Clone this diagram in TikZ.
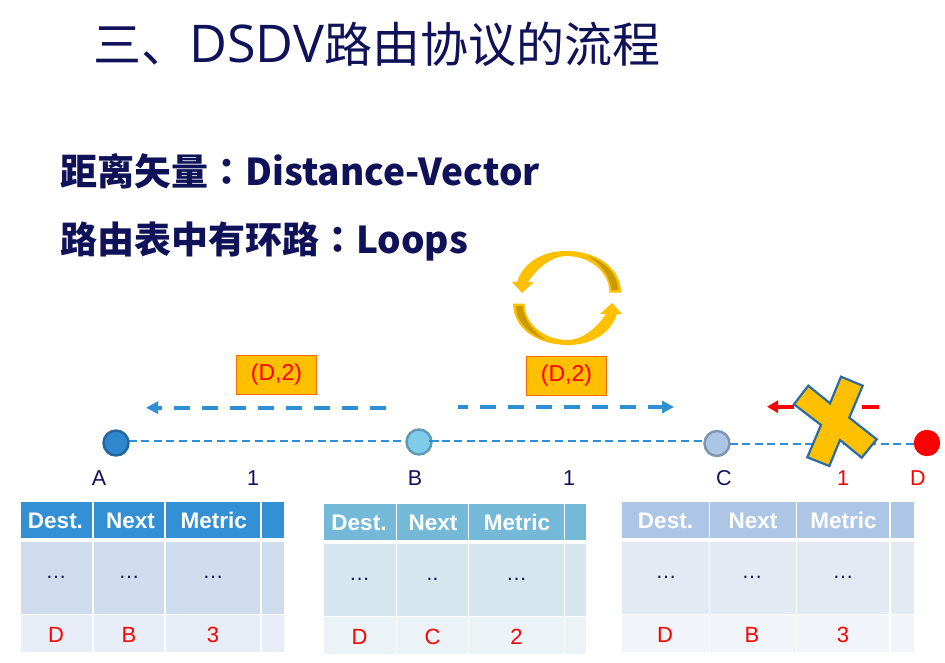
\documentclass[tikz,border=0pt]{standalone}
\usepackage{fontspec}
\setmainfont{Liberation Sans}
\newfontfamily\cjkf{Noto Sans CJK SC}
\newfontfamily\cjkt{Noto Sans CJK TC}
\newfontfamily\latf{Open Sans}
\usetikzlibrary{arrows.meta}
\definecolor{navy}{HTML}{0F1258}
\definecolor{flow}{HTML}{2F8FD5}
\definecolor{gold}{HTML}{FFC000}
\definecolor{goldd}{HTML}{C99A00}
\definecolor{xedge}{HTML}{2A6CA8}
\definecolor{boxedge}{HTML}{FF6A00}
\tikzset{
  x=1pt,y=-1pt,
  titletext/.style={anchor=base west,inner sep=0,text=navy,font=\cjkf\fontsize{48}{48}\selectfont},
  headtext/.style={anchor=base west,inner sep=0,text=navy,font=\cjkf\bfseries\fontsize{37}{37}\selectfont},
  msgbox/.style={draw=boxedge,fill=gold,line width=1.2pt,text=red,font=\fontsize{23}{23}\selectfont,minimum width=80pt,minimum height=39pt,inner sep=0},
  nodelabel/.style={anchor=base,inner sep=0,text=navy,font=\fontsize{21.5}{21.5}\selectfont},
  redlabel/.style={nodelabel,text=red},
  router/.style={circle,line width=2.4pt,minimum size=25pt,inner sep=0},
  link/.style={draw=flow,line width=1.8pt,dash pattern=on 8pt off 4.6pt},
  flowarrow/.style={flow,line width=4pt,-{Triangle[length=12pt,width=12pt,sep=0pt]}},
  bararrow/.style={red,line width=4pt},
  hdr/.style={anchor=base,inner sep=0,text=white,font=\bfseries\fontsize{22.5}{22.5}\selectfont},
  dots/.style={anchor=base,inner sep=0,text=navy,font=\fontsize{21}{21}\selectfont},
  val/.style={anchor=base,inner sep=0,text=red,font=\fontsize{22}{22}\selectfont},
}
% #1 hdr colour, #2 row1 colour, #3 row2 colour, #4-#8 column edges, #9 y offset
\newcommand{\rtbl}[9]{%
  \foreach \xa/\xb in {#4/#5,#5/#6,#6/#7,#7/#8}{
    \fill[#1] (\xa+0.7,501.7+#9) rectangle (\xb-0.7,537.7+#9);
    \fill[#2] (\xa+0.7,541.7+#9) rectangle (\xb-0.7,613.7+#9);
    \fill[#3] (\xa+0.7,615.2+#9) rectangle (\xb-0.7,652+#9);
  }%
}
\begin{document}
\begin{tikzpicture}
\useasboundingbox (0,0) rectangle (945,663);
\fill[white] (0,0) rectangle (945,663);
% headings
\node[titletext] (title) at (93,63) {三、{\latf\fontsize{52}{52}\selectfont DSDV}路由协议的流程};
\node[headtext] (h1) at (60,186) {距离矢量{\cjkt\bfseries ：}Distance-Vector};
\node[headtext] (h2) at (60,254) {路由表中有环路{\cjkt\bfseries ：}Loops};
% loop symbol
\begin{scope}
  \foreach \r in {0,180}{
    \begin{scope}[rotate around={\r:(567,298)}]
      \fill[gold] (621,292.5) .. controls (621,268) and (597,251) .. (566,251)
        .. controls (542,251) and (523,263) .. (517,282) -- (512,282) -- (522,293) -- (534,282) -- (528,282)
        .. controls (534,273) and (548,256.5) .. (566,256)
        .. controls (590,256) and (609.5,272) .. (609.5,292.5) -- cycle;
      \fill[goldd] (587,255.5) .. controls (606,262) and (618,275) .. (618,290) -- (611.5,290)
        .. controls (610,276) and (600,263) .. (587,255.5) -- cycle;
    \end{scope}
  }
\end{scope}
% links (behind the routers)
\coordinate (ab) at (116,441);
\coordinate (ba) at (419,441);
\coordinate (bc) at (429,441);
\coordinate (cb) at (717,441);
\coordinate (cd) at (717,444);
\coordinate (dc) at (927,444);
\draw[link] (ab) -- (ba);
\draw[link] (cd) -- (dc);
% routers
\definecolor{afill}{HTML}{2F88CE}\definecolor{aedge}{HTML}{21669E}
\definecolor{bfill}{HTML}{7FCBEA}\definecolor{bedge}{HTML}{5E9BB0}
\definecolor{cfill}{HTML}{ABC5E5}\definecolor{cedge}{HTML}{7F94AE}
\draw[link] (bc) -- (cb);
\node[router,draw=aedge,fill=afill] (A) at (116,443) {};
\node[router,draw=bedge,fill=bfill] (B) at (419,442) {};
\draw[link,dash pattern=on 10pt off 20pt] (B.center) ++(10,-1) -- ++(10,0);
\node[router,draw=cedge,fill=cfill] (C) at (717,443.5) {};
\node[router,draw=red,fill=red,minimum size=24pt] (D) at (927,443) {};
% message arrows
\coordinate (a1) at (386,407.7); \coordinate (a2) at (146,407.7);
\coordinate (b1) at (458,407); \coordinate (b2) at (674,407);
\draw[flowarrow,dash pattern=on 16pt off 12pt] (a1) -- (a2);
\draw[flowarrow,dash pattern=on 10pt off 12pt on 16pt off 12pt on 16pt off 12pt on 16pt off 12pt on 16pt off 12pt on 16pt off 12pt on 16pt off 12pt on 16pt off 12pt] (b1) -- (b2);
\coordinate (c1) at (794,406.7); \coordinate (c2) at (766,406.7);
\coordinate (c3) at (879,406.7); \coordinate (c4) at (862,406.7);
\draw[bararrow,-{Triangle[length=11pt,width=12pt,sep=1pt]}] (c1) -- (c2);
\draw[bararrow] (c3) -- (c4);
\node[msgbox] (m1) at (276.5,374.8) {\raisebox{-3pt}{(D,2)}};
\node[msgbox] (m2) at (566.5,375.6) {\raisebox{-3pt}{(D,2)}};
% cross
\draw[xedge,fill=gold,line width=2.2pt,line join=miter]
  (808.3,385.7) -- (830,403.3) -- (841,376.7) -- (862.7,385.7) -- (849.3,417.7) -- (876.7,439.3)
  -- (861.7,457.7) -- (840,440) -- (829.3,466) -- (807.3,457.3) -- (821,425) -- (794,404.3) -- cycle;
% labels
\node[nodelabel] (la) at (99,485) {A};
\node[nodelabel] (l1) at (253,485) {1};
\node[nodelabel] (lb) at (415,485) {B};
\node[nodelabel] (l2) at (569,485) {1};
\node[nodelabel] (lc) at (724,485) {C};
\node[redlabel] (l3) at (843,485) {1};
\node[redlabel] (ld) at (918,485) {D};
% tables
\definecolor{ah}{HTML}{3490D4}\definecolor{ar}{HTML}{CEDCEE}\definecolor{as}{HTML}{E8EDF7}
\definecolor{bh}{HTML}{74BAD8}\definecolor{br}{HTML}{D6E6EF}\definecolor{bs}{HTML}{ECF3F6}
\definecolor{ch}{HTML}{ADC6E6}\definecolor{cr}{HTML}{E3EAF3}\definecolor{cs}{HTML}{F1F4F9}
\rtbl{ah}{ar}{as}{20}{93}{165}{261}{284.7}{0}
\rtbl{bh}{br}{bs}{323.3}{396.5}{468.5}{564.5}{586.7}{2}
\rtbl{ch}{cr}{cs}{621.6}{709.5}{796.3}{890}{914.4}{0}
% table A
\node[hdr] (a11) at (55.5,528) {Dest.};
\node[hdr] (a12) at (130.5,528) {Next};
\node[hdr] (a13) at (213.7,528) {Metric};
\node[dots] (a21) at (56,578.5) {…};
\node[dots] (a22) at (129,578.5) {…};
\node[dots] (a23) at (213,578.5) {…};
\node[val] (a31) at (56,642) {D};
\node[val] (a32) at (129,642) {B};
\node[val] (a33) at (213,642) {3};
% table B
\node[hdr] (b11) at (359,530) {Dest.};
\node[hdr] (b12) at (433,530) {Next};
\node[hdr] (b13) at (517,530) {Metric};
\node[dots] (b21) at (359.5,580.5) {…};
\node[dots] (b22) at (432.5,580.5) {..};
\node[dots] (b23) at (516.5,580.5) {…};
\node[val] (b31) at (359.5,644) {D};
\node[val] (b32) at (432.5,644) {C};
\node[val] (b33) at (516.5,644) {2};
% table C
\node[hdr] (c11) at (665.5,528) {Dest.};
\node[hdr] (c12) at (753,528) {Next};
\node[hdr] (c13) at (843.5,528) {Metric};
\node[dots] (c21) at (666,578.5) {…};
\node[dots] (c22) at (752,578.5) {…};
\node[dots] (c23) at (843,578.5) {…};
\node[val] (c31) at (665,642) {D};
\node[val] (c32) at (752,642) {B};
\node[val] (c33) at (843,642) {3};
\end{tikzpicture}
\end{document}
